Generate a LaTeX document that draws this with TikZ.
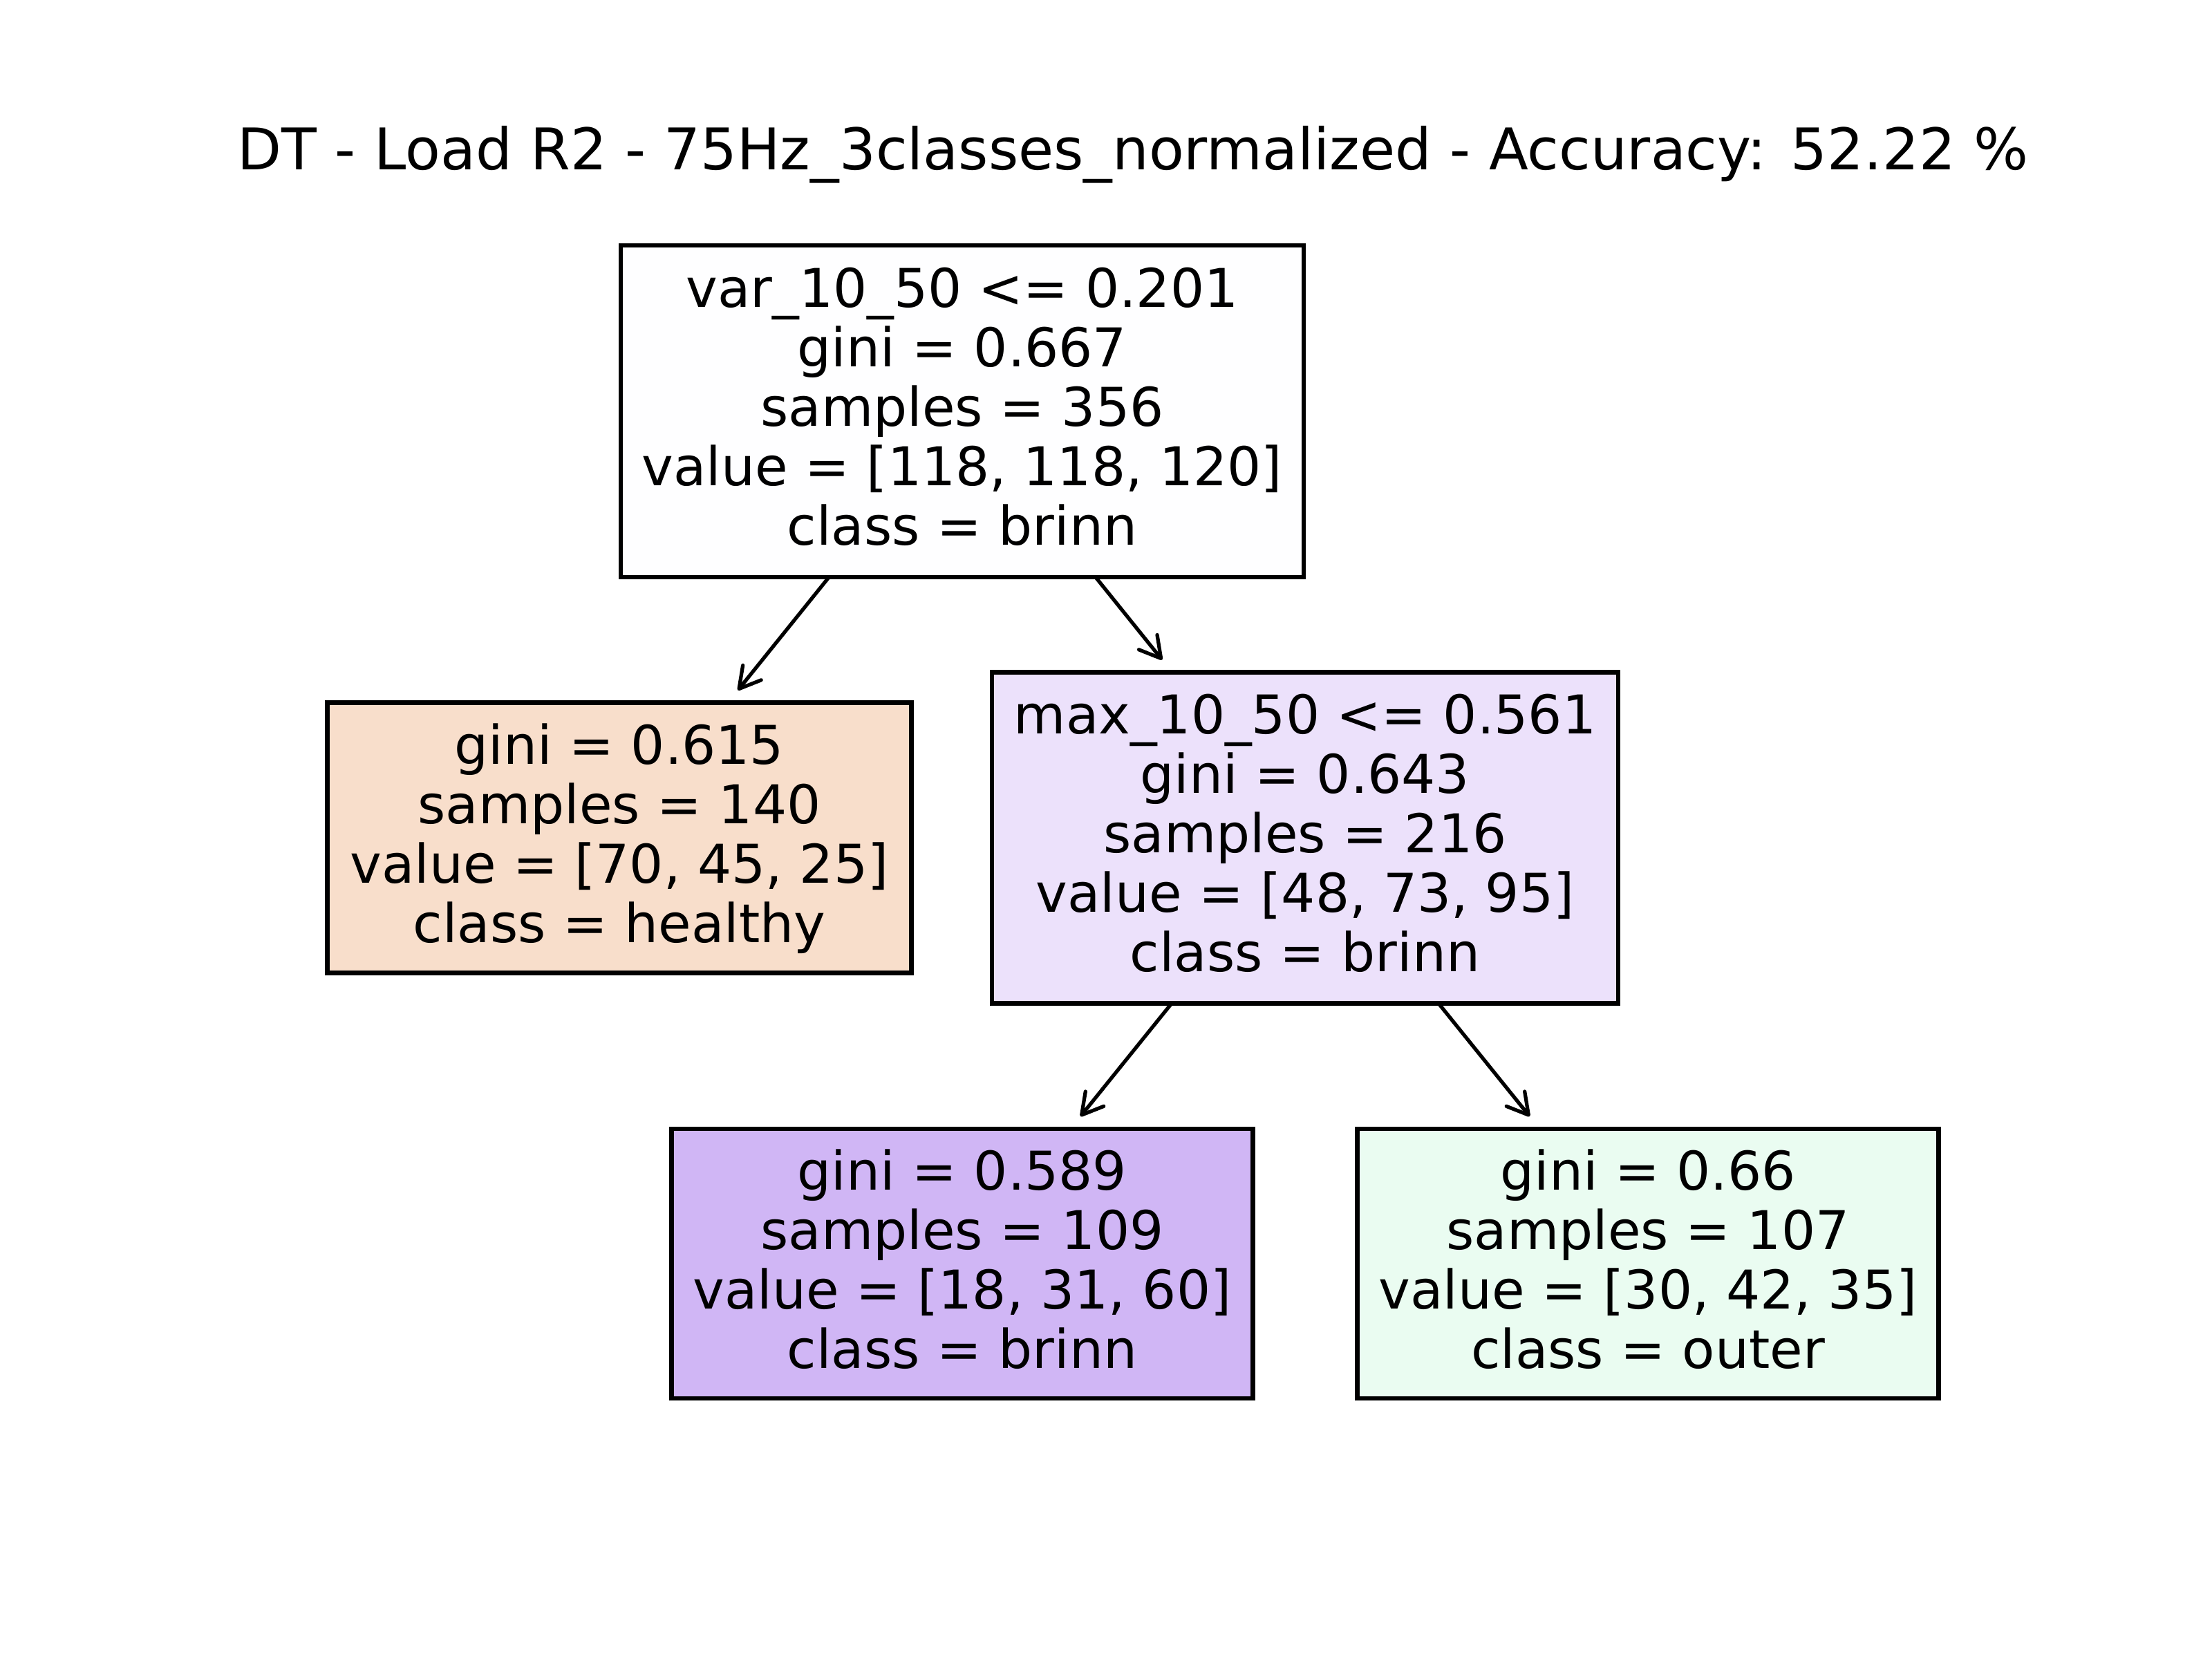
\documentclass[tikz,border=0pt]{standalone}
\usepackage{fontspec}
\setmainfont{DejaVu Sans}
\usepackage{tikz}
\usetikzlibrary{arrows.meta}
\usepackage{xcolor}
\definecolor{healthycol}{RGB}{248,222,203}
\definecolor{brinnlight}{RGB}{236,225,251}
\definecolor{brinncol}{RGB}{208,182,245}
\definecolor{outercol}{RGB}{234,252,241}
\definecolor{rootcol}{RGB}{254,254,255}

\begin{document}
\begin{tikzpicture}[
  leaf/.style={draw=black, line width=1.9pt, inner sep=0pt, outer sep=0pt, align=center,
    text depth=0.14cm, font=\fontsize{22pt}{24.5pt}\selectfont},
  edge/.style={-{Straight Barb[length=0.3cm,width=0.34cm,round]}, line width=1.5pt, shorten >=0.23cm}
]
  \useasboundingbox (0,0) rectangle (32,-24);
  \node[anchor=base, font=\fontsize{23.65pt}{28pt}\selectfont] (title) at (16.39,-2.46)
    {DT - Load R2 - 75Hz\_3classes\_normalized - Accuracy: 52.22 \%};

  %%%%%%% NODES
  \node[leaf, fill=rootcol, minimum width=9.88cm, minimum height=4.80cm] (root) at (13.92,-5.95)
    {var\_10\_50 <= 0.201\\gini = 0.667\\samples = 356\\value = [118, 118, 120]\\class = brinn};
  \node[leaf, fill=healthycol, minimum width=8.45cm, minimum height=3.91cm] (healthy) at (8.96,-12.12)
    {gini = 0.615\\samples = 140\\value = [70, 45, 25]\\class = healthy};
  \node[leaf, fill=brinnlight, minimum width=9.06cm, minimum height=4.79cm] (split) at (18.88,-12.12)
    {max\_10\_50 <= 0.561\\gini = 0.643\\samples = 216\\value = [48, 73, 95]\\class = brinn};
  \node[leaf, fill=brinncol, minimum width=8.41cm, minimum height=3.90cm] (brinn) at (13.92,-18.28)
    {gini = 0.589\\samples = 109\\value = [18, 31, 60]\\class = brinn};
  \node[leaf, fill=outercol, minimum width=8.41cm, minimum height=3.90cm] (outer) at (23.84,-18.28)
    {gini = 0.66\\samples = 107\\value = [30, 42, 35]\\class = outer};

  %%%%%%% ARROWS
  \draw[edge] (root) -- (healthy);
  \draw[edge] (root) -- (split);
  \draw[edge] (split) -- (brinn);
  \draw[edge] (split) -- (outer);
\end{tikzpicture}
\end{document}
